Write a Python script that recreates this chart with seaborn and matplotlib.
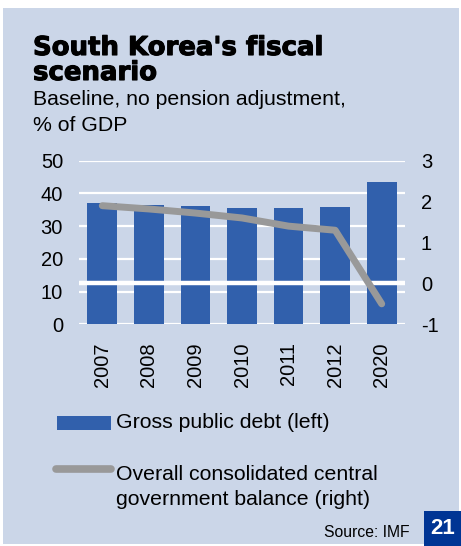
import matplotlib
matplotlib.use("Agg")
import matplotlib.pyplot as plt
from matplotlib.patches import Rectangle
from matplotlib.lines import Line2D
import matplotlib.patheffects as pe
import seaborn as sns
import pandas as pd

# Chart data
years = ["2007", "2008", "2009", "2010", "2011", "2012", "2020"]
gross_debt = [37.2, 36.5, 36.2, 35.5, 35.5, 35.9, 43.5]
central_balance = [1.9, 1.82, 1.72, 1.6, 1.4, 1.3, -0.5]
left_ticks = [0, 10, 20, 30, 40, 50]
right_ticks = [-1, 0, 1, 2, 3]

title = "South Korea's fiscal\nscenario"
subtitle = "Baseline, no pension adjustment,\n% of GDP"
debt_label = "Gross public debt (left)"
balance_label = "Overall consolidated central\ngovernment balance (right)"
source = "Source: IMF"
chart_no = "21"

PANEL = "#cbd6e8"
BAR = "#3160ac"
LINE = "#999999"
NAVY = "#003594"
INK = "#000000"
FONT = "Liberation Sans"

sns.set_theme(style="white")
plt.rcParams["font.family"] = [FONT, "DejaVu Sans"]
plt.rcParams["axes.unicode_minus"] = False
plt.rcParams["text.color"] = INK

df = pd.DataFrame({"year": years, "debt": gross_debt, "balance": central_balance})

W, H = 461, 546
fig = plt.figure(figsize=(W / 100, H / 100), dpi=100)
fig.patch.set_facecolor("white")

def fx(px):
    return px / W

def fy(py):
    return 1 - py / H

# background panel
fig.add_artist(Rectangle((fx(3), fy(544)), fx(459) - fx(3), fy(8) - fy(544),
                         transform=fig.transFigure, facecolor=PANEL,
                         edgecolor="none", zorder=0))

ax = fig.add_axes([fx(79), fy(324.3), fx(405) - fx(79), fy(160.7) - fy(324.3)])
ax.patch.set_alpha(0)

sns.barplot(data=df, x="year", y="debt", color=BAR, width=0.64,
            saturation=1, linewidth=0, ax=ax, zorder=2)
ax.set_ylim(0, 50)
ax.set_yticks(left_ticks)
for t in left_ticks:
    ax.axhline(t, color="white", lw=1.6, zorder=1)

ax2 = ax.twinx()
ax2.set_ylim(-1, 3)
ax2.set_yticks(right_ticks)
ax2.axhline(0, color="white", lw=3.2, zorder=1)
sns.lineplot(x=range(len(years)), y=central_balance, color=LINE, lw=5,
             ax=ax2, zorder=3, solid_capstyle="round", solid_joinstyle="round")
ax.set_xlim(-0.5, len(years) - 0.5)

for a in (ax, ax2):
    for s in a.spines.values():
        s.set_visible(False)
    a.set_xlabel("")
    a.set_ylabel("")
    a.grid(False)

ax.tick_params(axis="x", length=0, pad=13, labelsize=14.5, labelcolor=INK,
               labelrotation=90)
ax.tick_params(axis="y", length=0, pad=11.5, labelsize=14.5, labelcolor=INK)
ax2.tick_params(axis="y", length=0, pad=11.5, labelsize=14.5, labelcolor=INK)

# title and subtitle
heavy = [pe.withStroke(linewidth=0.8, foreground=INK)]
t1, t2 = title.split("\n")
fig.text(fx(33), fy(55), t1, fontsize=18.7, fontweight="bold", family="DejaVu Sans",
         va="baseline", ha="left", path_effects=heavy)
fig.text(fx(33), fy(80), t2, fontsize=18.7, fontweight="bold", family="DejaVu Sans",
         va="baseline", ha="left", path_effects=heavy)
s1, s2 = subtitle.split("\n")
fig.text(fx(33), fy(105), s1, fontsize=15.3, va="baseline", ha="left")
fig.text(fx(33), fy(131), s2, fontsize=15.3, va="baseline", ha="left")

# legend
fig.add_artist(Rectangle((fx(57), fy(430)), fx(111) - fx(57), fy(416) - fy(430),
                         transform=fig.transFigure, facecolor=BAR, edgecolor="none"))
fig.text(fx(116), fy(423), debt_label, fontsize=15.3, va="center", ha="left")
fig.add_artist(Line2D([fx(56), fx(111)], [fy(469), fy(469)], transform=fig.transFigure,
                      color=LINE, lw=5.5, solid_capstyle="round"))
b1, b2 = balance_label.split("\n")
fig.text(fx(116), fy(480), b1, fontsize=15.3, va="baseline", ha="left")
fig.text(fx(116), fy(505), b2, fontsize=15.3, va="baseline", ha="left")

# source and page number
fig.text(fx(410), fy(537), source, fontsize=11.3, va="baseline", ha="right")
fig.add_artist(Rectangle((fx(424), fy(546)), fx(461) - fx(424), fy(511) - fy(546),
                         transform=fig.transFigure, facecolor=NAVY, edgecolor="none"))
fig.text(fx(442.5), fy(529), chart_no, fontsize=16, fontweight="bold", color="white",
         va="center", ha="center")

fig.savefig("out.png", dpi=100)
